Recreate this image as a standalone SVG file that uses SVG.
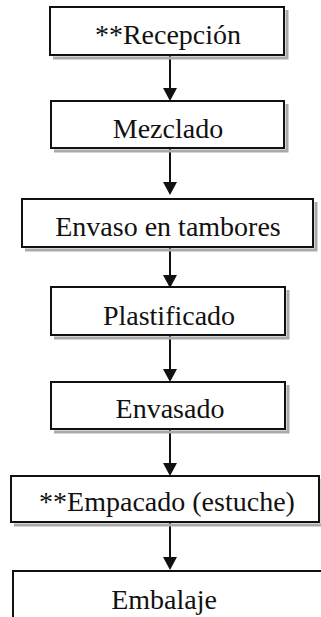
<svg xmlns="http://www.w3.org/2000/svg" width="321" height="617" viewBox="0 0 321 617">
<defs>
<style>
.box{fill:#fff;stroke:#111;stroke-width:2}
.sh{fill:none;stroke:#aaa;stroke-width:3}
.t{font-family:"Liberation Serif","Times New Roman",serif;font-size:28px;fill:#111;text-anchor:middle}
.c{stroke:#111;stroke-width:2;fill:none}
.ah{fill:#111}
</style>
</defs>
<rect width="321" height="617" fill="#fff"/>
<g id="connectors">
<line class="c" x1="170" y1="55" x2="170" y2="90"/><polygon class="ah" points="163,88 177,88 170,101"/>
<line class="c" x1="170" y1="148" x2="170" y2="184"/><polygon class="ah" points="163,182 177,182 170,195"/>
<line class="c" x1="170" y1="240" x2="170" y2="277"/><polygon class="ah" points="163,275 177,275 170,288"/>
<line class="c" x1="170" y1="335" x2="170" y2="371"/><polygon class="ah" points="163,369 177,369 170,382"/>
<line class="c" x1="170" y1="429" x2="170" y2="465"/><polygon class="ah" points="163,463 177,463 170,476"/>
<line class="c" x1="170" y1="522" x2="170" y2="559"/><polygon class="ah" points="163,557 177,557 170,570"/>
</g>
<g id="n1"><path class="sh" d="M287,10 V58 H53"/><rect class="box" x="50" y="7" width="234" height="48"/><text class="t" x="168" y="44">**Recepción</text></g>
<g id="n2"><path class="sh" d="M287,104 V151 H54"/><rect class="box" x="51" y="101" width="233" height="47"/><text class="t" x="168" y="138">Mezclado</text></g>
<g id="n3"><path class="sh" d="M316,202 V250 H25"/><rect class="box" x="22" y="199" width="291" height="48"/><text class="t" x="168" y="236">Envaso en tambores</text></g>
<g id="n4"><path class="sh" d="M288,290 V338 H54"/><rect class="box" x="51" y="287" width="234" height="48"/><text class="t" x="169" y="325">Plastificado</text></g>
<g id="n5"><path class="sh" d="M288,385 V432 H54"/><rect class="box" x="51" y="382" width="234" height="47"/><text class="t" x="170" y="418">Envasado</text></g>
<g id="n6"><path class="sh" d="M322,479 V525 H14"/><rect class="box" x="11" y="476" width="308" height="46"/><text class="t" x="167" y="511">**Empacado (estuche)</text></g>
<g id="n7"><rect class="box" x="13" y="571" width="320" height="60"/><text class="t" x="164" y="609">Embalaje</text></g>
</svg>
